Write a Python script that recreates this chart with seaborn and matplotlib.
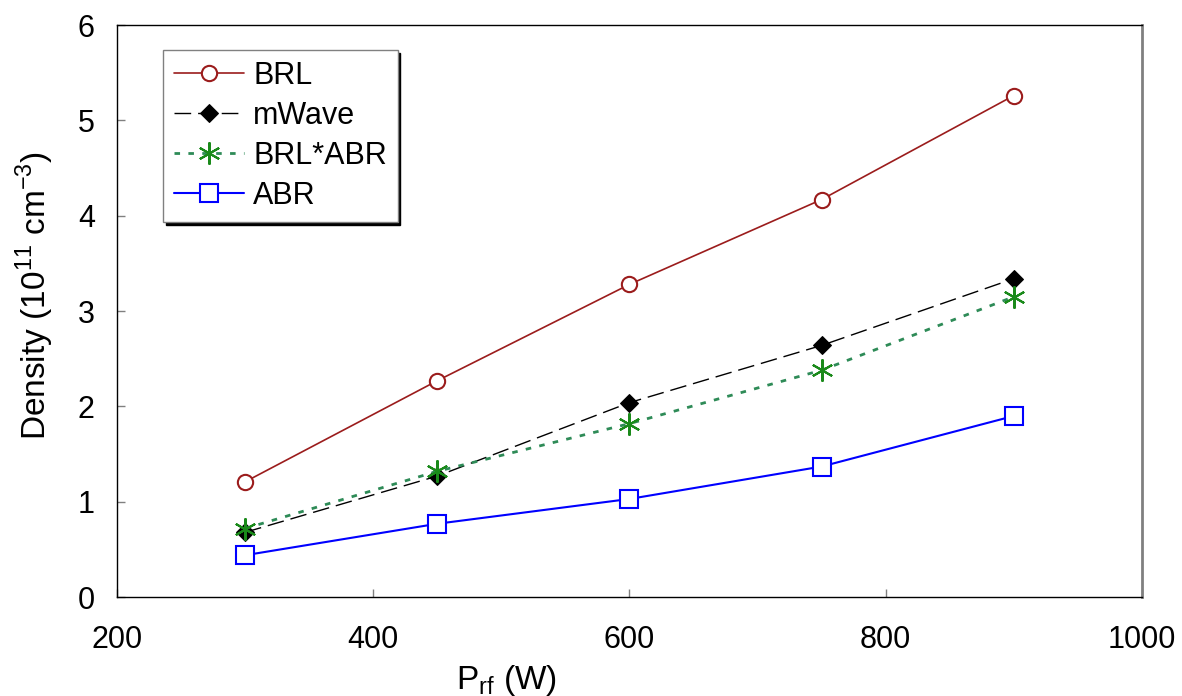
import pandas as pd
import matplotlib
matplotlib.use('Agg')
import matplotlib.pyplot as plt
import seaborn as sns

# Values
power = [300, 450, 600, 750, 900]
brl = [1.21, 2.27, 3.28, 4.17, 5.26]
mwave = [0.68, 1.27, 2.04, 2.64, 3.34]
brl_abr = [0.72, 1.32, 1.82, 2.38, 3.15]
abr = [0.44, 0.77, 1.03, 1.37, 1.90]

sns.set_style("white")
plt.rcParams['font.family'] = ['Liberation Sans', 'DejaVu Sans']
plt.rcParams['mathtext.fontset'] = 'custom'
plt.rcParams['mathtext.rm'] = 'Liberation Sans'
plt.rcParams['text.color'] = 'black'
plt.rcParams['axes.labelcolor'] = 'black'
plt.rcParams['xtick.color'] = 'black'
plt.rcParams['ytick.color'] = 'black'

fig = plt.figure(figsize=(11.82, 6.96), dpi=100)
ax = fig.add_axes([0.099, 0.142, 0.867, 0.822])

styles = [
    ('BRL', brl, dict(color='#9b1c1c', linestyle='-', linewidth=1.2, marker='o', markersize=11,
                      markerfacecolor='white', markeredgecolor='#9b1c1c', markeredgewidth=1.5)),
    ('mWave', mwave, dict(color='black', linestyle=(0, (12, 5)), linewidth=1.0, marker='D', markersize=9,
                          markerfacecolor='black', markeredgecolor='black')),
    ('BRL*ABR', brl_abr, dict(color='#2e8b57', linestyle=(0, (2, 3)), linewidth=2.0, marker=(6, 2, 0), markersize=16,
                              markeredgecolor='#1a8a1a', markeredgewidth=1.5)),
    ('ABR', abr, dict(color='blue', linestyle='-', linewidth=1.5, marker='s', markersize=13,
                      markerfacecolor='white', markeredgecolor='blue', markeredgewidth=1.5)),
]

for name, vals, kw in styles:
    df = pd.DataFrame({'P': power, 'D': vals})
    sns.lineplot(data=df, x='P', y='D', ax=ax, label=name, **kw)

ax.set_xlim(200, 1000)
ax.set_ylim(0, 6)
ax.set_xticks([200, 400, 600, 800, 1000])
ax.set_yticks(range(0, 7))
ax.tick_params(direction='in', length=6, width=1, labelsize=22, bottom=True, left=True, color='gray')
ax.tick_params(axis='x', pad=20)
ax.tick_params(axis='y', pad=16)
ax.set_xlabel(r'P$_{\rm rf}$ (W)', fontsize=24, labelpad=0)
ax.set_ylabel(r'Density (10$^{11}$ cm$^{-3}$)', fontsize=24, labelpad=2)
ax.xaxis.set_label_coords(0.38, -0.115)
ax.yaxis.set_label_coords(-0.06, 0.528)
for s in ax.spines.values():
    s.set_color('black')
    s.set_linewidth(1.0)
ax.spines['right'].set_color('gray')
ax.spines['right'].set_linewidth(2)

leg = ax.legend(loc='upper left', bbox_to_anchor=(0.045, 0.956), borderaxespad=0, fontsize=22, frameon=True,
                fancybox=False, shadow={'color': 'black', 'alpha': 1}, edgecolor='gray',
                handlelength=2.3, borderpad=0.35, labelspacing=0.33, handletextpad=0.3)
leg.get_frame().set_linewidth(1.0)

fig.savefig('out.png', dpi=100)
